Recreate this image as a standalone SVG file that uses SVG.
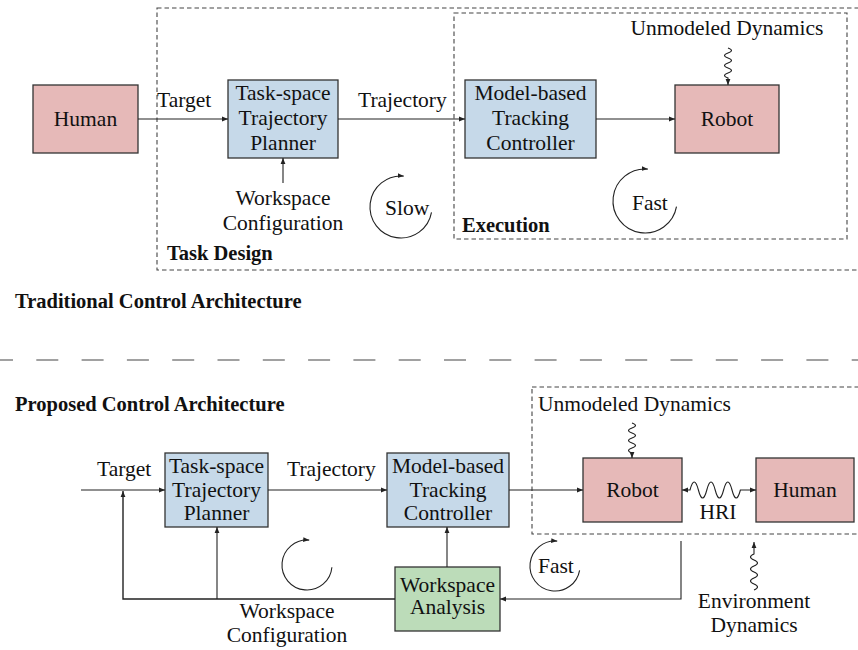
<svg xmlns="http://www.w3.org/2000/svg" width="858" height="650" viewBox="0 0 858 650">
<defs>
<marker id="ah" markerUnits="userSpaceOnUse" markerWidth="7" markerHeight="6" refX="6" refY="3" orient="auto-start-reverse">
<path d="M0,0.6 L6,3 L0,5.4 z" fill="#222"/>
</marker>
<style>
text{font-family:"Liberation Serif","Times New Roman",serif;font-size:21.5px;fill:#111}
.b{font-weight:bold;font-size:20.5px}
.m{text-anchor:middle}
.box{stroke:#333;stroke-width:1.3}
.pink{fill:#e6b9b8}
.blue{fill:#c6d9e9}
.green{fill:#bcdcb9}
.ln{fill:none;stroke:#222;stroke-width:1.1}
.arr{marker-end:url(#ah)}
.dash{fill:none;stroke:#444;stroke-width:1.1;stroke-dasharray:4.5 3}
</style>
</defs>
<rect width="858" height="650" fill="#fff"/>

<!-- TOP: Traditional -->
<g id="taskDesignRegion">
<rect class="dash" x="157" y="8" width="710" height="262"/>
<text class="b" x="167" y="260">Task Design</text>
</g>
<g id="executionRegion">
<rect class="dash" x="454" y="13" width="393" height="226"/>
<text class="b" x="462" y="232">Execution</text>
</g>
<g id="human1">
<rect class="box pink" x="33" y="85" width="105" height="68"/>
<text class="m" x="85.5" y="126">Human</text>
</g>
<g id="planner1">
<rect class="box blue" x="228" y="80" width="110" height="78"/>
<text class="m" x="283" y="100">Task-space</text>
<text class="m" x="283" y="125">Trajectory</text>
<text class="m" x="283" y="150">Planner</text>
</g>
<g id="controller1">
<rect class="box blue" x="465" y="80" width="131" height="78"/>
<text class="m" x="530.5" y="100">Model-based</text>
<text class="m" x="530.5" y="125">Tracking</text>
<text class="m" x="530.5" y="150">Controller</text>
</g>
<g id="robot1">
<rect class="box pink" x="675" y="85" width="104" height="68"/>
<text class="m" x="727" y="126">Robot</text>
</g>
<g id="labels1">
<text x="157" y="107">Target</text>
<text x="358" y="107">Trajectory</text>
<text class="m" x="283" y="205">Workspace</text>
<text class="m" x="283" y="230">Configuration</text>
<text class="m" x="727" y="35">Unmodeled Dynamics</text>
<text x="385" y="215">Slow</text>
<text x="632" y="210">Fast</text>
<text class="b" x="15" y="308">Traditional Control Architecture</text>
</g>
<g id="connectors1">
<line class="ln arr" x1="138" y1="119" x2="228" y2="119"/>
<line class="ln arr" x1="338" y1="119" x2="465" y2="119"/>
<line class="ln arr" x1="596" y1="119" x2="675" y2="119"/>
<line class="ln arr" x1="283" y1="183" x2="283" y2="158"/>
<path class="ln arr" d="M728,48 q7,2.5 0,5 t0,5 t0,5 t0,5 t0,5 t0,5 L728,85"/>
<path class="ln arr" d="M431.5,212.4 A31,31 0 1 1 403.7,176.1"/>
<path class="ln arr" d="M676.5,206.6 A32,32 0 1 1 647.8,169.1"/>
</g>

<!-- separator -->
<line x1="-9" y1="360" x2="858" y2="360" stroke="#444" stroke-width="1.2" stroke-dasharray="22 23.3"/>

<!-- BOTTOM: Proposed -->
<g id="hriRegion">
<rect class="dash" x="532" y="387" width="340" height="147"/>
<text x="538" y="411">Unmodeled Dynamics</text>
</g>
<g id="planner2">
<rect class="box blue" x="165" y="453" width="103" height="74"/>
<text class="m" x="216.5" y="473">Task-space</text>
<text class="m" x="216.5" y="497">Trajectory</text>
<text class="m" x="216.5" y="520">Planner</text>
</g>
<g id="controller2">
<rect class="box blue" x="387" y="453" width="122" height="74"/>
<text class="m" x="448" y="473">Model-based</text>
<text class="m" x="448" y="497">Tracking</text>
<text class="m" x="448" y="520">Controller</text>
</g>
<g id="robot2">
<rect class="box pink" x="583" y="458" width="99" height="64"/>
<text class="m" x="632.5" y="497">Robot</text>
</g>
<g id="human2">
<rect class="box pink" x="756" y="458" width="98" height="64"/>
<text class="m" x="805" y="497">Human</text>
</g>
<g id="workspaceAnalysis">
<rect class="box green" x="395" y="567" width="105" height="64"/>
<text class="m" x="447.5" y="592">Workspace</text>
<text class="m" x="447.5" y="614">Analysis</text>
</g>
<g id="labels2">
<text class="b" x="15" y="411">Proposed Control Architecture</text>
<text x="97" y="476">Target</text>
<text x="287" y="476">Trajectory</text>
<text class="m" x="718" y="519">HRI</text>
<text class="m" x="287" y="618">Workspace</text>
<text class="m" x="287" y="642">Configuration</text>
<text x="538" y="573">Fast</text>
<text class="m" x="754" y="608">Environment</text>
<text class="m" x="754" y="632">Dynamics</text>
</g>
<g id="connectors2">
<line class="ln arr" x1="81" y1="490" x2="165" y2="490"/>
<line class="ln arr" x1="268" y1="490" x2="387" y2="490"/>
<line class="ln arr" x1="509" y1="490" x2="583" y2="490"/>
<line class="ln arr" x1="447" y1="567" x2="447" y2="527"/>
<polyline class="ln arr" points="681,541 681,599 500,599"/>
<polyline class="ln arr" points="395,599 123,599 123,491" style="stroke-width:1.4"/>
<line class="ln arr" x1="217" y1="599" x2="217" y2="527"/>
<path class="ln arr" d="M632,423 q7,2.5 0,5 t0,5 t0,5 t0,5 t0,5 t0,5 L632,458"/>
<path class="ln arr" d="M754,590 q7,-3 0,-6 t0,-6 t0,-6 t0,-6 t0,-6 t0,-6 L754,542"/>
<path class="ln" d="M682,490 H690 q4.2,-16 8.4,0 t8.4,0 t8.4,0 t8.4,0 t8.4,0 t8.4,0 H756" style="marker-start:url(#ah);marker-end:url(#ah)"/>
<path class="ln arr" d="M331.9,567.2 A25,25 0 1 1 309.2,540.1"/>
<path class="ln arr" d="M579.6,570.3 A25,25 0 1 1 557.2,541.1"/>
</g>
</svg>
